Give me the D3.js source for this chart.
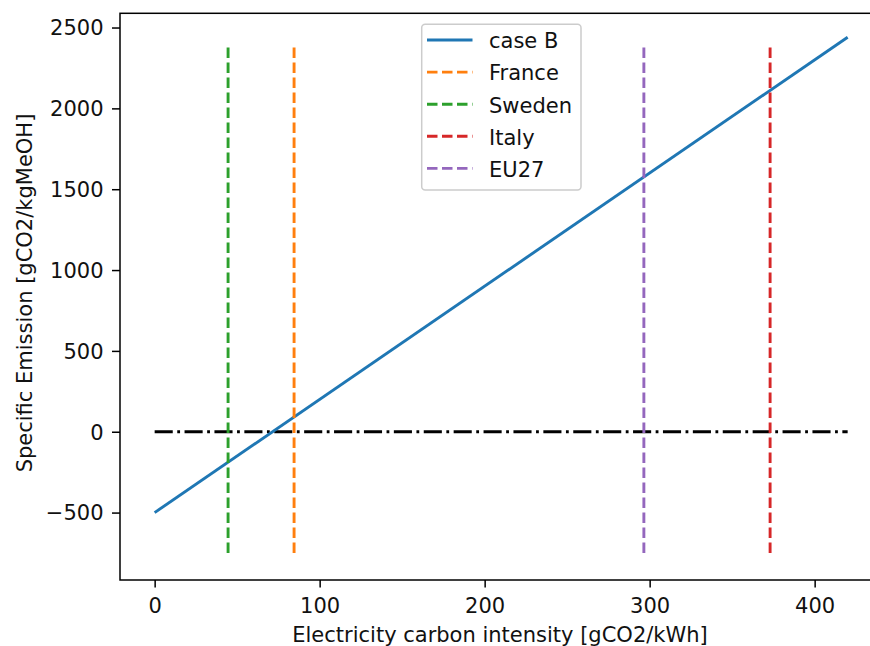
<!DOCTYPE html>
<html>
<head>
<meta charset="utf-8">
<script src="https://cdn.jsdelivr.net/npm/d3@7"></script>
<style>
  html, body { margin: 0; padding: 0; background: #fff; }
  svg { display: block; font-family: "DejaVu Sans", sans-serif; }
</style>
</head>
<body>
<svg id="chart" width="870" height="646"></svg>
<script>
// Specific emission of case B against grid carbon intensity
const caseX = [0, 420];
const caseY = [-500, 2440];

// Grid carbon intensity of selected electricity mixes [gCO2/kWh]
const countries = ["France", "Sweden", "Italy", "EU27"];
const intensities = [84.5, 44.5, 373, 296.5];
const countryColors = ["#ff7f0e", "#2ca02c", "#d62728", "#9467bd"];

// Extent of the vertical reference markers
const markerSpan = [-750, 2400];

// Axis ticks and limits
const xTicks = [0, 100, 200, 300, 400];
const yTicks = [-500, 0, 500, 1000, 1500, 2000, 2500];
const xLimits = [-21, 441];
const yLimits = [-917, 2588];

const xLabel = "Electricity carbon intensity [gCO2/kWh]";
const yLabel = "Specific Emission [gCO2/kgMeOH]";

const svg = d3.select("#chart");
const plotLeft = 120, plotRight = 882.3, plotTop = 13.3, plotBottom = 580;

const x = d3.scaleLinear().domain(xLimits).range([plotLeft, plotRight]);
const y = d3.scaleLinear().domain(yLimits).range([plotBottom, plotTop]);

const textColor = "#111";
const fontSize = 21;

// plotted lines
const plot = svg.append("g");

// zero reference line (dash-dot)
plot.append("line")
  .attr("x1", x(caseX[0])).attr("x2", x(caseX[1]))
  .attr("y1", y(0)).attr("y2", y(0))
  .attr("stroke", "#000").attr("stroke-width", 2.9)
  .attr("stroke-dasharray", "18.1,4.5,2.8,4.5");

// case B line
const line = d3.line().x(d => x(d[0])).y(d => y(d[1]));
plot.append("path")
  .attr("d", line(d3.zip(caseX, caseY)))
  .attr("fill", "none").attr("stroke", "#1f77b4").attr("stroke-width", 2.9);

// country markers, drawn bottom to top
countries.forEach((c, i) => {
  plot.append("line")
    .attr("x1", x(intensities[i])).attr("x2", x(intensities[i]))
    .attr("y1", y(markerSpan[0])).attr("y2", y(markerSpan[1]))
    .attr("stroke", countryColors[i]).attr("stroke-width", 2.9)
    .attr("stroke-dasharray", "10.5,4.5");
});

// axes
const xAxis = svg.append("g")
  .attr("transform", `translate(0,${plotBottom})`)
  .call(d3.axisBottom(x).tickValues(xTicks).tickSize(7.5).tickPadding(6).tickFormat(d3.format("d")));
const yAxis = svg.append("g")
  .attr("transform", `translate(${plotLeft},0)`)
  .call(d3.axisLeft(y).tickValues(yTicks).tickSize(8).tickPadding(8.5)
        .tickFormat(d => d < 0 ? "\u2212" + Math.abs(d) : String(d)));

[xAxis, yAxis].forEach(a => {
  a.select(".domain").remove();
  a.selectAll(".tick line").attr("stroke", "#000").attr("stroke-width", 1.5);
  a.selectAll(".tick text")
    .attr("fill", textColor)
    .style("font-family", "DejaVu Sans")
    .style("font-size", fontSize + "px");
});
xAxis.selectAll(".tick text").attr("dy", null).attr("y", 32.7);
yAxis.selectAll(".tick text").attr("dy", "0.35em");

// axes frame
svg.append("rect")
  .attr("x", plotLeft).attr("y", plotTop)
  .attr("width", plotRight - plotLeft).attr("height", plotBottom - plotTop)
  .attr("fill", "none").attr("stroke", "#000").attr("stroke-width", 1.5);

// axis titles
svg.append("text")
  .attr("x", 500).attr("y", 641.7)
  .attr("text-anchor", "middle")
  .attr("fill", textColor).style("font-size", fontSize + "px")
  .text(xLabel);

svg.append("text")
  .attr("transform", "translate(31.5,293) rotate(-90)")
  .attr("text-anchor", "middle")
  .attr("fill", textColor).style("font-size", fontSize + "px")
  .text(yLabel);

// legend
const legendNames = ["case B"].concat(countries);
const legendColors = ["#1f77b4"].concat(countryColors);
const legend = svg.append("g");
legend.append("rect")
  .attr("x", 421.7).attr("y", 24.3)
  .attr("width", 159.3).attr("height", 165.7)
  .attr("rx", 3.5)
  .attr("fill", "#fff").attr("fill-opacity", 0.8)
  .attr("stroke", "#cccccc").attr("stroke-width", 1.5);

legendNames.forEach((name, i) => {
  const base = 48.3 + i * 32.1;
  const mid = base - 8.3;
  legend.append("line")
    .attr("x1", 427).attr("x2", 472.5)
    .attr("y1", mid).attr("y2", mid)
    .attr("stroke", legendColors[i]).attr("stroke-width", 2.9)
    .attr("stroke-dasharray", i === 0 ? null : "10.5,4.5");
  legend.append("text")
    .attr("x", 489).attr("y", base)
    .attr("fill", textColor).style("font-size", fontSize + "px")
    .text(name);
});
</script>
</body>
</html>
